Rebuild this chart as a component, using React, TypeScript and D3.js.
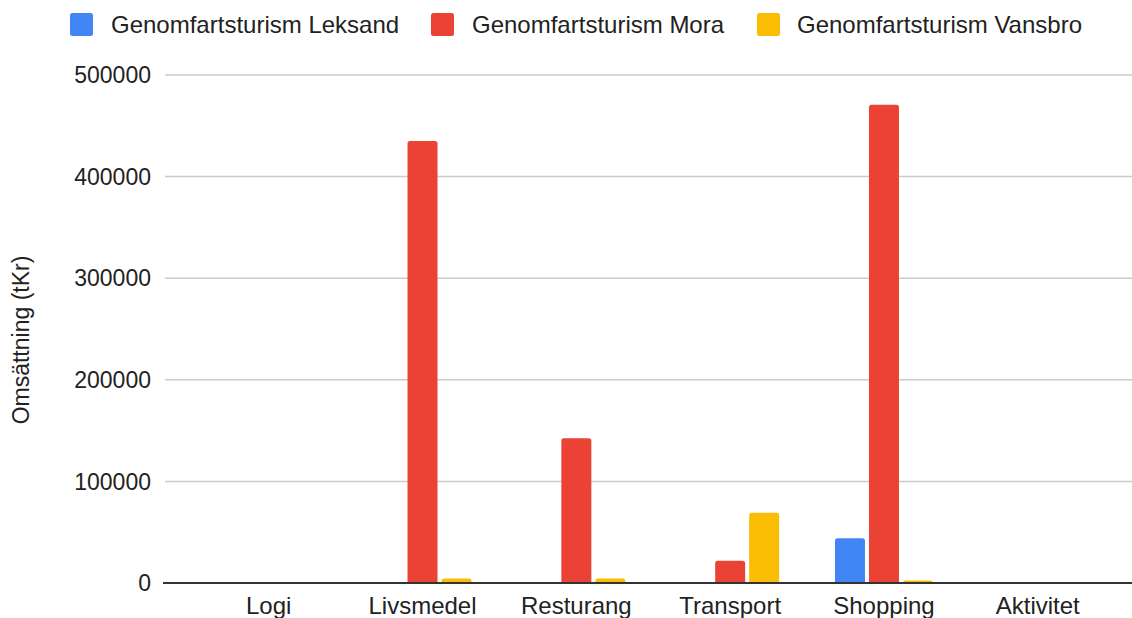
import React from "react";
import * as d3 from "d3";

const categories = ["Logi", "Livsmedel", "Resturang", "Transport", "Shopping", "Aktivitet"];
const seriesNames = ["Genomfartsturism Leksand", "Genomfartsturism Mora", "Genomfartsturism Vansbro"];
const leksand = [0, 0, 0, 0, 44000, 0];
const mora = [0, 435000, 142500, 22000, 470800, 0];
const vansbro = [0, 4500, 4500, 69200, 2500, 0];
const yTicks = [0, 100000, 200000, 300000, 400000, 500000];
const colors = ["#4285F4", "#EA4335", "#FBBC04"];

const W = 1132;
const H = 618;
const FONT = "'Liberation Sans', Arial, Helvetica, sans-serif";

export default function App() {
  const series = [leksand, mora, vansbro];
  const x = d3.scaleBand<string>().domain(categories).range([191.8, 1114.7]).paddingInner(0).paddingOuter(0);
  const groupW = 98;
  const xi = d3.scaleBand<number>().domain([0, 1, 2]).range([0, groupW]).paddingInner(4 / 34).paddingOuter(0);
  const y = d3.scaleLinear().domain([0, 500000]).range([583, 75]);
  const gridX0 = 165;
  const gridX1 = 1132;
  const r = 2.5;

  const barPath = (x0: number, w: number, y0: number, y1: number) => {
    const h = y1 - y0;
    if (h <= 0) return "";
    const rr = Math.min(r, h, w / 2);
    return `M${x0},${y1} L${x0},${y0 + rr} Q${x0},${y0} ${x0 + rr},${y0} L${x0 + w - rr},${y0} Q${x0 + w},${y0} ${x0 + w},${y0 + rr} L${x0 + w},${y1} Z`;
  };

  const legendItems = [
    { sq: 70, tx: 111 },
    { sq: 431, tx: 472 },
    { sq: 757, tx: 797 },
  ];

  return (
    <svg width={W} height={H} style={{ position: "absolute", left: 0, top: 0, background: "#fff" }} fontFamily={FONT}>
      <rect x={0} y={0} width={W} height={H} fill="#fff" />
      {/* legend */}
      {seriesNames.map((name, i) => (
        <g key={name}>
          <rect x={legendItems[i].sq} y={13} width={23} height={23} rx={2.5} fill={colors[i]} />
          <text x={legendItems[i].tx} y={33} fontSize={24} fill="#222">{name}</text>
        </g>
      ))}
      {/* gridlines */}
      {yTicks.map((t) => (
        <g key={t}>
          {t !== 0 && (
            <line x1={gridX0} x2={gridX1} y1={y(t)} y2={y(t)} stroke="#cccccc" strokeWidth={1.5} />
          )}
          <text x={151} y={y(t)} dy="0.36em" textAnchor="end" fontSize={23} fill="#222">{t}</text>
        </g>
      ))}
      {/* bars */}
      {categories.map((c, ci) => (
        <g key={c} transform={`translate(${(x(c) as number) + x.bandwidth() / 2 - groupW / 2},0)`}>
          {series.map((s, si) => (
            <path
              key={si}
              d={barPath(xi(si) as number, xi.bandwidth(), y(s[ci]), y(0))}
              fill={colors[si]}
            />
          ))}
        </g>
      ))}
      {/* baseline */}
      <line x1={gridX0 - 2} x2={gridX1} y1={y(0)} y2={y(0)} stroke="#333333" strokeWidth={2} />
      {/* category labels */}
      {categories.map((c) => (
        <text key={c} x={(x(c) as number) + x.bandwidth() / 2} y={614} textAnchor="middle" fontSize={24} fill="#222">{c}</text>
      ))}
      {/* axis title */}
      <text transform={`translate(29,340) rotate(-90)`} textAnchor="middle" fontSize={23} fill="#222">Omsättning (tKr)</text>
    </svg>
  );
}
